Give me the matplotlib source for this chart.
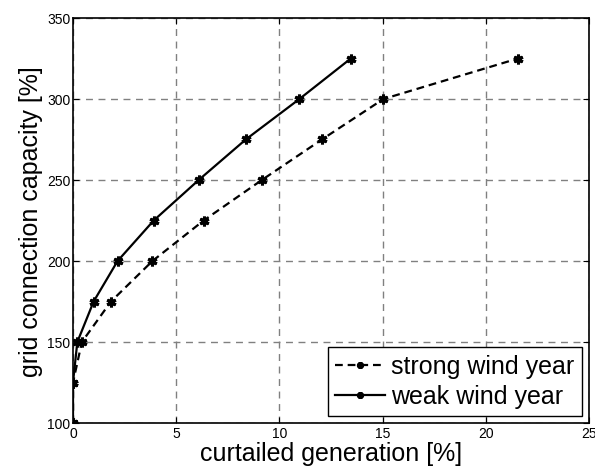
import matplotlib
matplotlib.use("Agg")
import matplotlib.pyplot as plt

capacity = [100, 125, 150, 175, 200, 225, 250, 275, 300, 325]
strong_curtailed = [0, 0, 0.43, 1.84, 3.85, 6.33, 9.15, 12.06, 15.04, 21.56]
weak_curtailed = [0, 0, 0.21, 1.0, 2.16, 3.91, 6.09, 8.37, 10.97, 13.46]
xticks = [0, 5, 10, 15, 20, 25]
yticks = [100, 150, 200, 250, 300, 350]

plt.rcParams['font.family'] = ['Liberation Sans', 'DejaVu Sans']

fig = plt.figure(figsize=(5.95, 4.77), dpi=100)
ax = fig.add_axes([73/595, 1 - 424/477, (589-73)/595, (424-19)/477])

mk = (6, 2, 0)
ax.plot(strong_curtailed, capacity, color='black', linestyle=(0, (3.5, 2.2)), lw=1.6,
        marker=mk, ms=7, mew=2.2, label='strong wind year')
ax.plot(weak_curtailed, capacity, color='black', linestyle='-', lw=1.6,
        marker=mk, ms=7, mew=2.2, label='weak wind year')

ax.set_xlim(0, 25)
ax.set_ylim(100, 350)
ax.set_xticks(xticks)
ax.set_yticks(yticks)
ax.tick_params(direction='in', top=True, right=True, labelsize=10, length=4, pad=2)
ax.grid(True, color='#808080', linestyle=(0, (5, 4)), lw=1.0)
for s in ax.spines.values():
    s.set_linewidth(1.2)

ax.set_xlabel('curtailed generation [%]', fontsize=18, labelpad=1)
ax.set_ylabel('grid connection capacity [%]', fontsize=18, labelpad=3)

leg = ax.legend(loc='lower right', fontsize=18, frameon=True, fancybox=False,
                edgecolor='black', framealpha=1, handlelength=2.0, handletextpad=0.25,
                borderpad=0.3, labelspacing=0.25, borderaxespad=0.28, markerscale=0.7)
leg.get_frame().set_linewidth(1.0)

fig.savefig('out.png', dpi=100)
